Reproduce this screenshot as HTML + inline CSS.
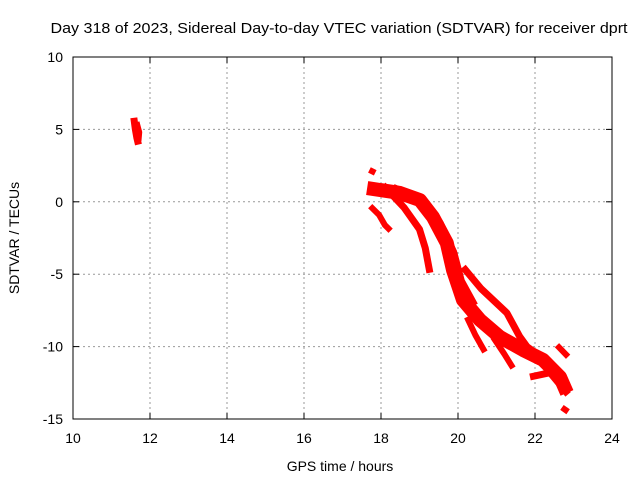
<!DOCTYPE html>
<html><head><meta charset="utf-8"><style>
body{margin:0;background:#fff}
svg{display:block;font-family:"Liberation Sans",sans-serif}
</style></head><body>
<svg id="chart" width="640" height="480">
<text x="339" y="33" font-size="15" textLength="577" lengthAdjust="spacingAndGlyphs" text-anchor="middle">Day 318 of 2023, Sidereal Day-to-day VTEC variation (SDTVAR) for receiver dprt</text>
<g id="grid"></g>
<g id="series"></g>
<rect x="73" y="57" width="539" height="362" fill="none" stroke="#000" stroke-width="1"/>
<g id="ticks"></g>
<text x="340" y="471" font-size="14" text-anchor="middle">GPS time / hours</text>
<text transform="translate(19,238) rotate(-90)" font-size="14" text-anchor="middle">SDTVAR / TECUs</text>
</svg>
<script>
const xTicks=[10,12,14,16,18,20,22,24];
const yTicks=[10,5,0,-5,-10,-15];
const clusterA=[[11.58,5.8],[11.62,5.0],[11.66,4.4],[11.7,3.95]];
const clusterA2=[[11.65,5.5],[11.72,4.8],[11.7,4.2]];
const traceB=[[17.7,2.2],[17.85,2.0]];
const traceC=[[17.72,-0.3],[17.95,-0.9],[18.1,-1.6],[18.25,-2.0]];
const mainBand=[[17.64,0.95],[18.49,0.61],[19.01,0.12],[19.35,-1.05],[19.71,-2.85],[19.87,-4.71],[20.13,-6.78],[20.57,-8.16],[21.09,-9.34],[21.69,-10.23],[22.21,-10.92],[22.65,-12.1],[22.83,-13.2]];
const mainBand2=[[18.3,0.9],[19.1,0.0],[19.5,-1.5],[19.85,-3.5],[20.05,-5.5],[20.4,-7.2]];
const branchLeft=[[18.05,1.16],[18.6,-0.4],[19.0,-1.9],[19.15,-3.2],[19.27,-4.9]];
const branchRight=[[20.13,-4.5],[20.6,-6.0],[21.27,-7.68],[21.6,-9.3],[21.79,-10.0],[22.1,-10.6]];
const branchLow1=[[20.23,-7.96],[20.45,-9.2],[20.7,-10.37]];
const branchLow2=[[20.91,-9.34],[21.2,-10.5],[21.43,-11.48]];
const clusterRight=[[21.87,-12.1],[22.39,-11.8],[22.86,-13.3]];
const isoRight1=[[22.57,-9.9],[22.86,-10.7]];
const isoRight2=[[22.7,-14.2],[22.86,-14.5]];
const NS="http://www.w3.org/2000/svg";
const X0=73,X1=612,Y0=57,Y1=419;
const px=x=>X0+(x-10)/14*(X1-X0);
const py=y=>Y0+(10-y)/25*(Y1-Y0);
const grid=document.getElementById('grid'),ticks=document.getElementById('ticks'),ser=document.getElementById('series');
function mk(tag,attrs,parent){const e=document.createElementNS(NS,tag);for(const k in attrs)e.setAttribute(k,attrs[k]);parent.appendChild(e);return e;}
xTicks.forEach(v=>{const x=px(v);
 if(v>10&&v<24){const l=mk('line',{x1:x,x2:x,y1:Y0,y2:Y1,stroke:'#999','stroke-dasharray':'2,3'},grid);
 
 }
 const t1=mk('line',{x1:x,x2:x,y1:Y1,y2:Y1-6,stroke:'#000'},ticks);
 
 
 const t2=mk('line',{x1:x,x2:x,y1:Y0,y2:Y0+6,stroke:'#000'},ticks);
 
 
 const tx=mk('text',{x:x,y:443,'font-size':14,'text-anchor':'middle'},ticks);tx.textContent=v;
 
 
});
yTicks.forEach(v=>{const y=py(v);
 if(v<10&&v>-15){const l=mk('line',{x1:X0,x2:X1,y1:y,y2:y,stroke:'#999','stroke-dasharray':'2,3'},grid);
 
 }
 const t1=mk('line',{x1:X0,x2:X0+6,y1:y,y2:y,stroke:'#000'},ticks);
 
 
 const t2=mk('line',{x1:X1,x2:X1-6,y1:y,y2:y,stroke:'#000'},ticks);
 
 
 const tx=mk('text',{x:63,y:y+5,'font-size':14,'text-anchor':'end'},ticks);tx.textContent=v;
 
 
});
function trace(pts,w,name){const p=mk('polyline',{points:pts.map(d=>px(d[0])+','+py(d[1])).join(' '),fill:'none',stroke:'#f00','stroke-width':w,'stroke-linejoin':'round','stroke-linecap':'butt'},ser);
 
 }
trace(clusterA,7,'trace-cluster-left');
trace(clusterA2,6,'trace-cluster-left-2');
trace(traceB,6,'trace-b');
trace(traceC,6,'trace-c');
trace(mainBand,14,'trace-main-band');
trace(mainBand2,10,'trace-main-band-2');
trace(branchLeft,7,'trace-branch-left');
trace(branchRight,7,'trace-branch-right');
trace(branchLow1,6,'trace-branch-low-1');
trace(branchLow2,6,'trace-branch-low-2');
trace(clusterRight,7,'trace-cluster-right');
trace(isoRight1,6,'trace-isolated-right-1');
trace(isoRight2,6,'trace-isolated-right-2');
</script>
</body></html>
